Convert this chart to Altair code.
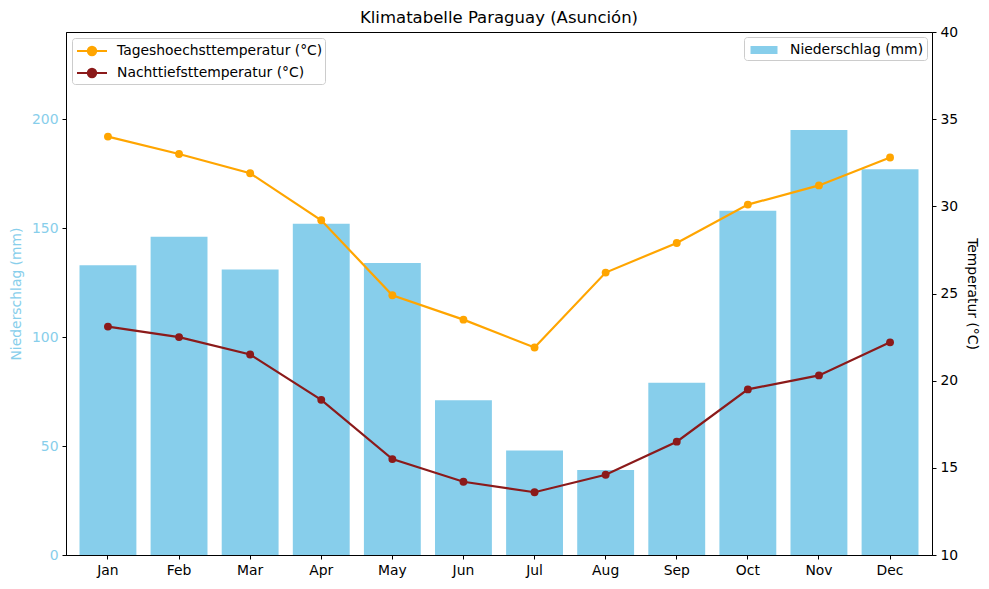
import altair as alt
import pandas as pd

months = ["Jan", "Feb", "Mar", "Apr", "May", "Jun", "Jul", "Aug", "Sep", "Oct", "Nov", "Dec"]
niederschlag = [133, 146, 131, 152, 134, 71, 48, 39, 79, 158, 195, 177]
tmax = [34.0, 33.0, 31.9, 29.2, 24.9, 23.5, 21.9, 26.2, 27.9, 30.1, 31.2, 32.8]
tmin = [23.1, 22.5, 21.5, 18.9, 15.5, 14.2, 13.6, 14.6, 16.5, 19.5, 20.3, 22.2]

MAX_LABEL = "Tageshoechsttemperatur (°C)"
MIN_LABEL = "Nachttiefsttemperatur (°C)"
RAIN_LABEL = "Niederschlag (mm)"

rain_df = pd.DataFrame({"Monat": months, "Wert": niederschlag, "Serie": RAIN_LABEL})
temp_df = pd.concat([
    pd.DataFrame({"Monat": months, "Temp": tmax, "Serie": MAX_LABEL}),
    pd.DataFrame({"Monat": months, "Temp": tmin, "Serie": MIN_LABEL}),
])

FONT = "DejaVu Sans"
FS = 13.9

x_enc = alt.X(
    "Monat:N",
    sort=months,
    scale=alt.Scale(paddingInner=0.2, paddingOuter=0.19),
    axis=alt.Axis(title=None, labelAngle=0, labelFontSize=FS, labelColor="black",
                  tickColor="black", tickSize=4, domainColor="black", labelPadding=4),
)

bars = alt.Chart(rain_df).mark_bar(color="#87CEEB").encode(
    x=x_enc,
    y=alt.Y("Wert:Q", scale=alt.Scale(domain=[0, 240], nice=False),
            axis=alt.Axis(title="Niederschlag (mm)", titleColor="#87CEEB", labelColor="#87CEEB",
                          values=[0, 50, 100, 150, 200], titleFontSize=FS, labelFontSize=FS,
                          titleFontWeight="normal", tickColor="black", tickSize=4,
                          domainColor="black", grid=False, titlePadding=8, labelPadding=4)),
    fill=alt.Fill("Serie:N", scale=alt.Scale(domain=[RAIN_LABEL], range=["#87CEEB"]),
                  legend=alt.Legend(orient="top-right", title=None, offset=5,
                                    symbolType="M-1.35,-0.4H1.35V0.4H-1.35Z", symbolSize=400,
                                    symbolOffset=7, labelOffset=16,
                                    symbolStrokeWidth=0, labelFontSize=FS, labelFont=FONT,
                                    labelLimit=0, fillColor="white", strokeColor="#cccccc",
                                    cornerRadius=3, padding=3)),
)

color_scale = alt.Scale(domain=[MAX_LABEL, MIN_LABEL], range=["#FFA500", "#8B1A1A"])
temp_y = alt.Y("Temp:Q", scale=alt.Scale(domain=[10, 40], nice=False),
               axis=alt.Axis(title="Temperatur (°C)", orient="right", values=[10, 15, 20, 25, 30, 35, 40],
                             titleFontSize=FS, labelFontSize=FS, titleFontWeight="normal",
                             labelColor="black", titleColor="black", tickColor="black", tickSize=4,
                             domainColor="black", grid=False, titlePadding=7, labelPadding=4))

legend_cfg = alt.Legend(
    orient="top-left", title=None, offset=6,
    symbolType="M-1.5,0H1.5M0.42,0A0.42,0.42 0 1,1 -0.42,0A0.42,0.42 0 1,1 0.42,0",
    symbolSize=400, symbolStrokeWidth=2, symbolOffset=7, labelOffset=14,
    labelFontSize=FS, labelFont=FONT, labelLimit=0,
    fillColor="white", strokeColor="#cccccc", cornerRadius=3, padding=2, rowPadding=2,
)

temps = alt.Chart(temp_df).mark_line(
    strokeWidth=2.2, point=alt.OverlayMarkDef(filled=True, size=62, opacity=1)
).encode(
    x=alt.X("Monat:N", sort=months),
    y=temp_y,
    color=alt.Color("Serie:N", scale=color_scale, sort=[MAX_LABEL, MIN_LABEL], legend=legend_cfg),
)

chart = alt.layer(bars, temps).resolve_scale(y="independent").properties(
    width=866,
    height=523,
    autosize=alt.AutoSizeParams(type="none"),
    padding={"left": 66, "top": 32, "right": 57, "bottom": 34},
    title=alt.TitleParams("Klimatabelle Paraguay (Asunción)", fontSize=16.5, fontWeight="normal",
                          font=FONT, anchor="middle", offset=-1, color="black"),
).configure(font=FONT).configure_view(stroke="black", strokeWidth=1).configure_axis(
    labelFont=FONT, titleFont=FONT
)

chart.save("out.html", embed_options={"renderer": "svg", "actions": False})
